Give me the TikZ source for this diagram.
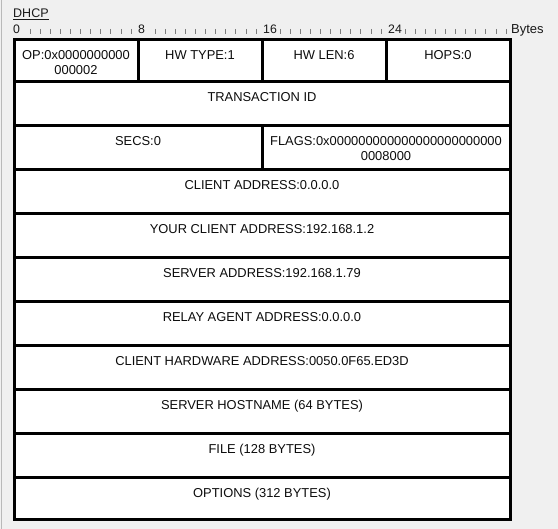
\documentclass[tikz,border=0pt]{standalone}
\usepackage{fontspec}
\setmainfont{Liberation Sans}
\usetikzlibrary{positioning}
\definecolor{panel}{HTML}{F0F0F0}
\definecolor{edge}{HTML}{B9B9B9}
\definecolor{tickgray}{HTML}{7E7E7E}

\begin{document}
\begin{tikzpicture}[x=1pt, y=-1pt, node distance=0pt,
  field/.style={draw, line width=3pt, inner sep=0pt, outer sep=0pt, align=center, fill=white,
    text=black!95, font=\fontsize{12.9}{15}\selectfont},
  quarter/.style={field, minimum width=124pt},
  half/.style={field, minimum width=248pt},
  wide/.style={field, minimum width=496pt},
  tall/.style={minimum height=44pt, text height=20pt, text depth=24pt},
  short/.style={minimum height=42pt, text height=19.5pt, text depth=22.5pt},
  ruler/.style={inner sep=0pt, anchor=base west, text=black!90},
  tick/.style={draw=tickgray, line width=0.8pt}]
  \useasboundingbox (0,0) rectangle (558,529);
  \fill[panel] (0,0) rectangle (558,529);
  \draw[edge, line width=1.5pt] (1.5,0) -- (1.5,529);

  % header and bit ruler
  \node[ruler, font=\fontsize{12.5}{14}\selectfont] (title) at (13,18) {\underline{DHCP}};
  \node[ruler, font=\fontsize{12.3}{14}\selectfont] (bit0) at (13,33.5) {0};
  \node[ruler, font=\fontsize{12.3}{14}\selectfont] (bit8) at (138,33.5) {8};
  \node[ruler, font=\fontsize{12.3}{14}\selectfont] (bit16) at (263,33.5) {16};
  \node[ruler, font=\fontsize{12.3}{14}\selectfont] (bit24) at (388,33.5) {24};
  \node[ruler, font=\fontsize{13}{15}\selectfont] (bytes) at (511,33.5) {Bytes};
  \foreach \s in {13,138,263,388}
    \foreach \k in {0,...,10}
      \draw[tick] (\s+17+10.1*\k,29) -- ++(0,5.5);

  % first row: op, htype, hlen, hops
  \node[quarter, short, text height=34.5pt, text depth=7.5pt, anchor=north west] (op) at (14,40) {OP:0x0000000000\\000002};
  \node[quarter, short, right=of op] (htype) {HW TYPE:1};
  \node[quarter, short, right=of htype] (hlen) {HW LEN:6};
  \node[quarter, short, right=of hlen] (hops) {HOPS:0};

  \node[wide, tall, below=of op.south west, anchor=north west] (xid) {TRANSACTION ID};
  \node[half, tall, below=of xid.south west, anchor=north west] (secs) {SECS:0};
  \node[half, tall, text height=35pt, text depth=9pt, right=of secs] (flags) {FLAGS:0x000000000000000000000000\\0008000};

  \node[wide, tall, below=of secs.south west, anchor=north west] (ciaddr) {CLIENT ADDRESS:0.0.0.0};
  \node[wide, tall, below=of ciaddr] (yiaddr) {YOUR CLIENT ADDRESS:192.168.1.2};
  \node[wide, tall, below=of yiaddr] (siaddr) {SERVER ADDRESS:192.168.1.79};
  \node[wide, tall, below=of siaddr] (giaddr) {RELAY AGENT ADDRESS:0.0.0.0};
  \node[wide, tall, below=of giaddr] (chaddr) {CLIENT HARDWARE ADDRESS:0050.0F65.ED3D};
  \node[wide, tall, below=of chaddr] (sname) {SERVER HOSTNAME (64 BYTES)};
  \node[wide, tall, below=of sname] (file) {FILE (128 BYTES)};
  \node[wide, short, text height=20pt, text depth=22pt, below=of file] (options) {OPTIONS (312 BYTES)};
\end{tikzpicture}
\end{document}
